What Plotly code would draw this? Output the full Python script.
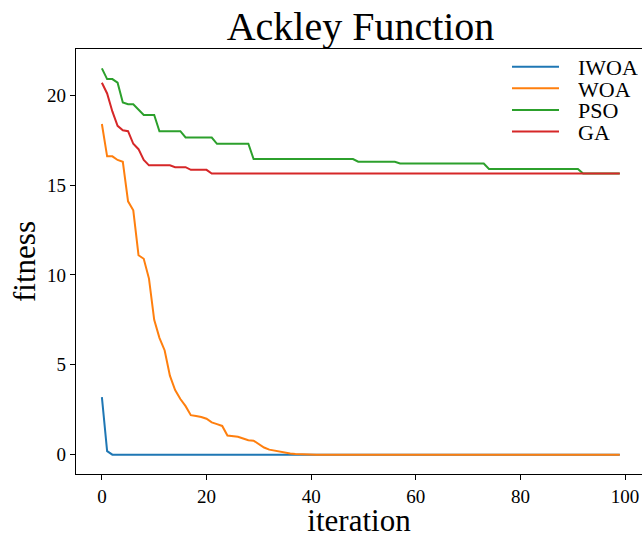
import plotly.graph_objects as go

iterations = list(range(100))

iwoa = [3.2, 0.2] + [0.0] * 98

woa = [18.4, 16.6, 16.6, 16.4, 16.3, 14.1, 13.6, 11.1, 10.9, 9.8,
       7.5, 6.5, 5.8, 4.4, 3.6, 3.1, 2.7, 2.2, 2.15, 2.1,
       2.0, 1.8, 1.7, 1.6, 1.07, 1.03, 1.0, 0.9, 0.8, 0.78,
       0.6, 0.4, 0.28, 0.22, 0.17, 0.1, 0.06, 0.04, 0.02, 0.01] + [0.0] * 60

pso = ([21.5, 20.9, 20.9, 20.7, 19.6, 19.5, 19.5, 19.2, 18.9, 18.9, 18.9]
       + [18.0] * 5 + [17.65] * 6 + [17.3] * 7 + [16.45] * 20
       + [16.3] * 8 + [16.2] * 17 + [15.9] * 18 + [15.65] * 8)

ga = ([20.7, 20.1, 19.1, 18.3, 18.05, 18.0, 17.3, 17.0, 16.4]
      + [16.1] * 5 + [16.0] * 3 + [15.85] * 4 + [15.65] * 79)

series_names = ["IWOA", "WOA", "PSO", "GA"]
series_values = [iwoa, woa, pso, ga]
series_colors = ["#1f77b4", "#ff7f0e", "#2ca02c", "#d62728"]

x_ticks = [0, 20, 40, 60, 80, 100]
y_ticks = [0, 5, 10, 15, 20]

FONT = "Liberation Serif"

# figure geometry
W, H = 642, 538
ML, MT, MB, MR = 76, 49, 64, 0
PW, PH = W - ML - MR, H - MT - MB


def px_to_paper_x(px):
    return (px - ML) / PW


def px_to_paper_y(py):
    return (H - MB - py) / PH


fig = go.Figure()
for name, vals, col in zip(series_names, series_values, series_colors):
    fig.add_trace(go.Scatter(x=iterations, y=vals, mode="lines", name=name,
                             line=dict(color=col, width=2), showlegend=False))

# legend drawn as keys + labels (matplotlib-like compact spacing)
shapes = []
annotations = []
for i, (name, col) in enumerate(zip(series_names, series_colors)):
    cy = 66.7 + i * 21.6
    shapes.append(dict(type="line", xref="paper", yref="paper",
                       x0=px_to_paper_x(512), x1=px_to_paper_x(559),
                       y0=px_to_paper_y(cy), y1=px_to_paper_y(cy),
                       line=dict(color=col, width=2)))
    annotations.append(dict(text=name, xref="paper", yref="paper",
                            x=px_to_paper_x(576), y=px_to_paper_y(cy + 1),
                            xanchor="left", yanchor="middle", showarrow=False,
                            height=21, valign="middle",
                            font=dict(family=FONT, size=22, color="black")))

fig.update_layout(
    width=W, height=H,
    margin=dict(l=ML, r=MR, t=MT, b=MB, autoexpand=False),
    paper_bgcolor="white", plot_bgcolor="white",
    font=dict(family=FONT, color="black"),
    title=dict(text="Ackley Function", font=dict(family=FONT, size=40, color="black"),
               x=(228 + 493) / 2 / W, xanchor="center",
               y=1 - 26 / H, yanchor="middle", yref="container", automargin=False),
    showlegend=False,
    shapes=shapes,
    annotations=annotations,
)

fig.update_xaxes(range=[-4.95, 103.25], tickvals=x_ticks, ticks="outside", ticklen=5,
                 tickwidth=1.2, tickcolor="black", showline=True, linecolor="black",
                 linewidth=1.3, mirror=True, showgrid=False, zeroline=False,
                 automargin=False,
                 tickfont=dict(family=FONT, size=19, color="black"),
                 title=dict(text="iteration", font=dict(family=FONT, size=31, color="black"),
                            standoff=12))
fig.update_yaxes(range=[-1.075, 22.575], tickvals=y_ticks, ticks="outside", ticklen=5,
                 tickwidth=1.2, tickcolor="black", showline=True, linecolor="black",
                 linewidth=1.3, mirror=False, showgrid=False, zeroline=False,
                 automargin=False,
                 tickfont=dict(family=FONT, size=19, color="black"),
                 title=dict(text="fitness", font=dict(family=FONT, size=31, color="black"),
                            standoff=2))

fig.write_html("out.html", config={"displayModeBar": False},
               post_script="document.body.style.margin='0';")
